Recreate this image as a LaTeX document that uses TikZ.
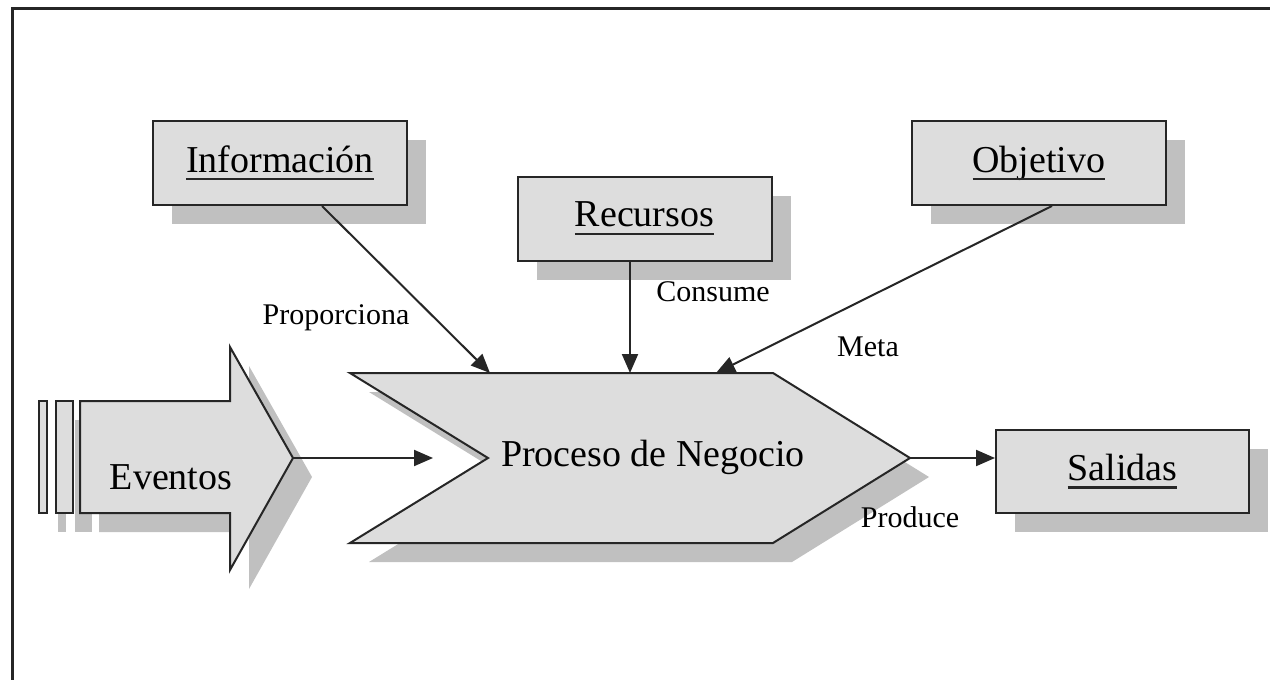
\documentclass[tikz,border=0pt]{standalone}
\usepackage{fontspec}
\setmainfont{Liberation Serif}
\usetikzlibrary{arrows.meta,shadows,calc}
\definecolor{boxfill}{HTML}{DDDDDD}
\definecolor{shadowc}{HTML}{C0C0C0}
\definecolor{linec}{HTML}{262626}
\newcommand{\bigf}{\fontsize{38}{44}\selectfont}
\newcommand{\smallf}{\fontsize{30}{36}\selectfont}
\newcommand{\ul}[1]{\leavevmode\setbox0\hbox{#1}\rlap{\copy0}{\color{linec}\rule[-8pt]{\wd0}{2.2pt}}}
\tikzset{
  shad/.style={drop shadow={shadow xshift=19pt, shadow yshift=-19pt, fill=shadowc, opacity=1, draw=none}},
  box/.style={draw=linec, line width=2pt, fill=boxfill, minimum width=254pt, minimum height=84pt, inner sep=0pt, font=\bigf, shad},
  shapefill/.style={draw=linec, line width=2pt, fill=boxfill, line join=miter, shad},
  conn/.style={draw=linec, line width=2pt, -{Triangle[length=19pt,width=16pt]}},
  lbl/.style={font=\smallf, inner sep=0pt},
}
\begin{document}
\begin{tikzpicture}[x=1pt,y=-1pt]
\useasboundingbox (0,0) rectangle (1270,680);
\fill[white] (0,0) rectangle (1270,680);
% frame
\draw[linec, line width=3pt] (12,680) -- (12,8) -- (1270,8);
% boxes
\node[box] (inf) at (280,163) {\ul{Información}};
\node[box] (rec) at (644.5,218.5) {\ul{Recursos}};
\node[box] (obj) at (1039,163) {\ul{Objetivo}};
\node[box, minimum width=253pt, minimum height=83pt] (sal) at (1122.5,471.5) {\ul{Salidas}};
% eventos bars and arrow
\path[shapefill] (39,401) rectangle (47,513);
\path[shapefill] (56,401) rectangle (73,513);
\path[shapefill] (80,401) -- (230,401) -- (230,347) -- (293,458) -- (230,570) -- (230,513) -- (80,513) -- cycle;
\coordinate (evtip) at (293,458);
\node[font=\bigf, inner sep=0pt] (ev) at (171,477) {Eventos};
% process chevron
\path[shapefill] (350,373) -- (773,373) -- (910,458) -- (773,543) -- (350,543) -- (488,458) -- cycle;
\coordinate (ptip) at (910,458);
\coordinate (pin) at (433,458);
\coordinate (pinf) at (490,373);
\coordinate (prec) at (630,373);
\coordinate (pobj) at (716,373);
\node[font=\bigf, inner sep=0pt] (proc) at (653,457) {Proceso de Negocio};
% connectors
\draw[conn] ([xshift=42pt]inf.south) -- (pinf);
\draw[conn] ([xshift=-14.5pt]rec.south) -- (prec);
\draw[conn] ([xshift=13pt]obj.south) -- (pobj);
\draw[conn] (evtip) -- (pin);
\draw[conn] (ptip) -- (ptip -| sal.west);
% labels
\node[lbl] (lprop) at (336,318) {Proporciona};
\node[lbl] (lcons) at (713,292) {Consume};
\node[lbl] (lmeta) at (868,347) {Meta};
\node[lbl] (lprod) at (910,517) {Produce};
\end{tikzpicture}
\end{document}
